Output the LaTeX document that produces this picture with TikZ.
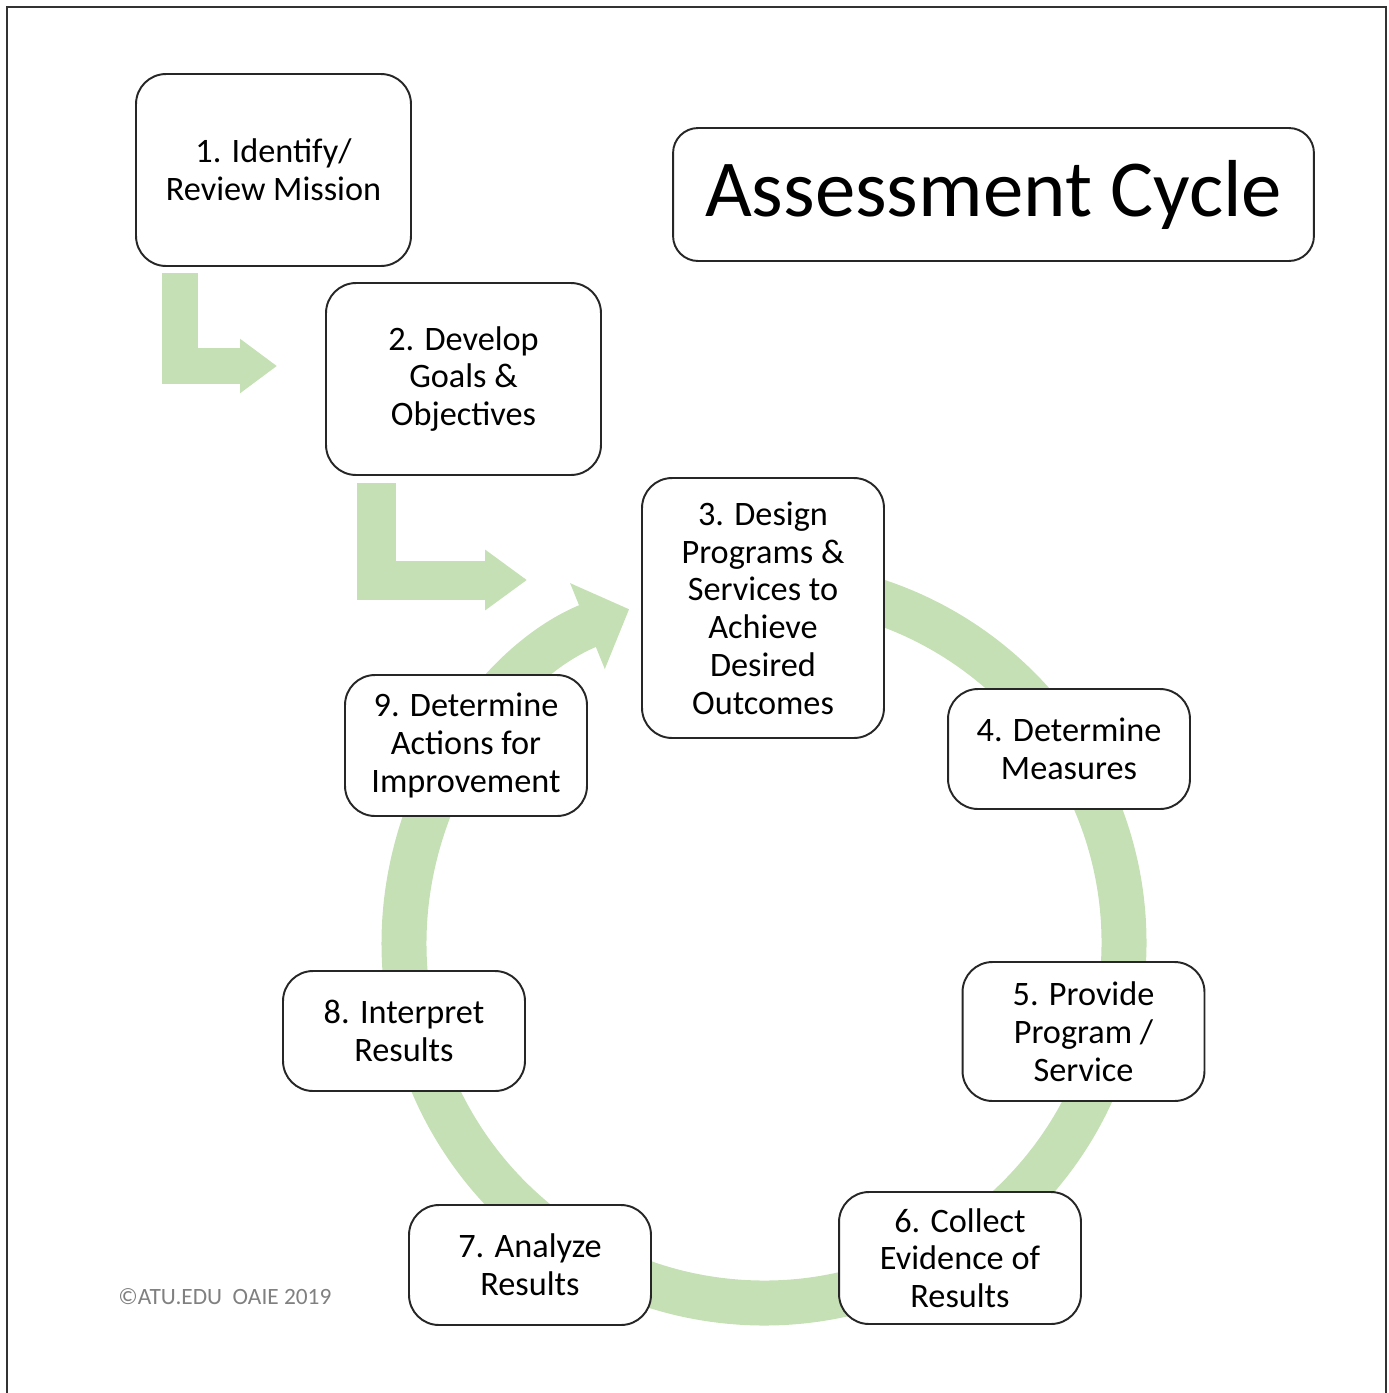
\documentclass[tikz,border=0pt]{standalone}
\usepackage{fontspec}
\setmainfont{Carlito}
\usetikzlibrary{arrows.meta}
\definecolor{ringgreen}{HTML}{C5E0B4}

\begin{document}
\begin{tikzpicture}[x=0.02cm, y=-0.02cm,
	box/.style={draw=black!85, line width=1.1pt, fill=white, rounded corners=0.6cm, align=center, inner sep=2pt, font=\fontsize{19.5}{21.5}\selectfont},
	ring/.style={draw=ringgreen, line width=0.9cm},
	bent/.style={draw=ringgreen, line cap=butt, line join=miter}]
		\useasboundingbox (0,0) rectangle (1389,1393);
		\draw[line width=1.4pt, black!80] (7,1393) -- (7,7) -- (1386,7) -- (1386,1393);
		\coordinate (c) at (764,943);
		\draw[ring, -{Triangle[width=1.8cm, length=0.9cm]}] (c) ++(-85:360) arc[start angle=-85, end angle=248, radius=360];
		\coordinate (b1) at (180,273);
		\coordinate (e1) at (277,366);
		\coordinate (b2) at (376,483);
		\coordinate (e2) at (527,580);
		\draw[bent, line width=0.72cm, -{Triangle[width=1.04cm, length=0.74cm]}] (b1) |- (e1);
		\draw[bent, line width=0.78cm, -{Triangle[width=1.16cm, length=0.84cm]}] (b2) |- (e2);
		\node[box, minimum width=5.5cm, minimum height=3.84cm] (1) at (273.5,170) {1. Identify/\\Review Mission};
		\node[box, minimum width=5.5cm, minimum height=3.84cm] (2) at (463.5,379) {2. Develop\\Goals \&\\Objectives};
		\node[box, minimum width=4.84cm, minimum height=5.2cm] (3) at (763,608) {3. Design\\Programs \&\\Services to\\Achieve\\Desired\\Outcomes};
		\node[box, minimum width=4.84cm, minimum height=2.4cm] (4) at (1069,749) {4. Determine\\Measures};
		\node[box, minimum width=4.84cm, minimum height=2.78cm] (5) at (1083.5,1031.5) {5. Provide\\Program /\\Service};
		\node[box, minimum width=4.84cm, minimum height=2.64cm] (6) at (960,1258) {6. Collect\\Evidence of\\Results};
		\node[box, minimum width=4.84cm, minimum height=2.4cm] (7) at (530,1265) {7. Analyze\\Results};
		\node[box, minimum width=4.84cm, minimum height=2.4cm] (8) at (404,1031) {8. Interpret\\Results};
		\node[box, minimum width=4.84cm, minimum height=2.82cm] (9) at (466,745.5) {9. Determine\\Actions for\\Improvement};
		\node[box, rounded corners=0.5cm, minimum width=12.82cm, minimum height=2.66cm, font=\fontsize{46}{54}\selectfont] (title) at (993.5,194.5) {Assessment Cycle};
		\node[text=black!50, font=\fontsize{13.3}{15}\selectfont, inner sep=0pt, anchor=west] (copy) at (118,1297) {©ATU.EDU\ \ OAIE 2019};
	\end{tikzpicture}
\end{document}
